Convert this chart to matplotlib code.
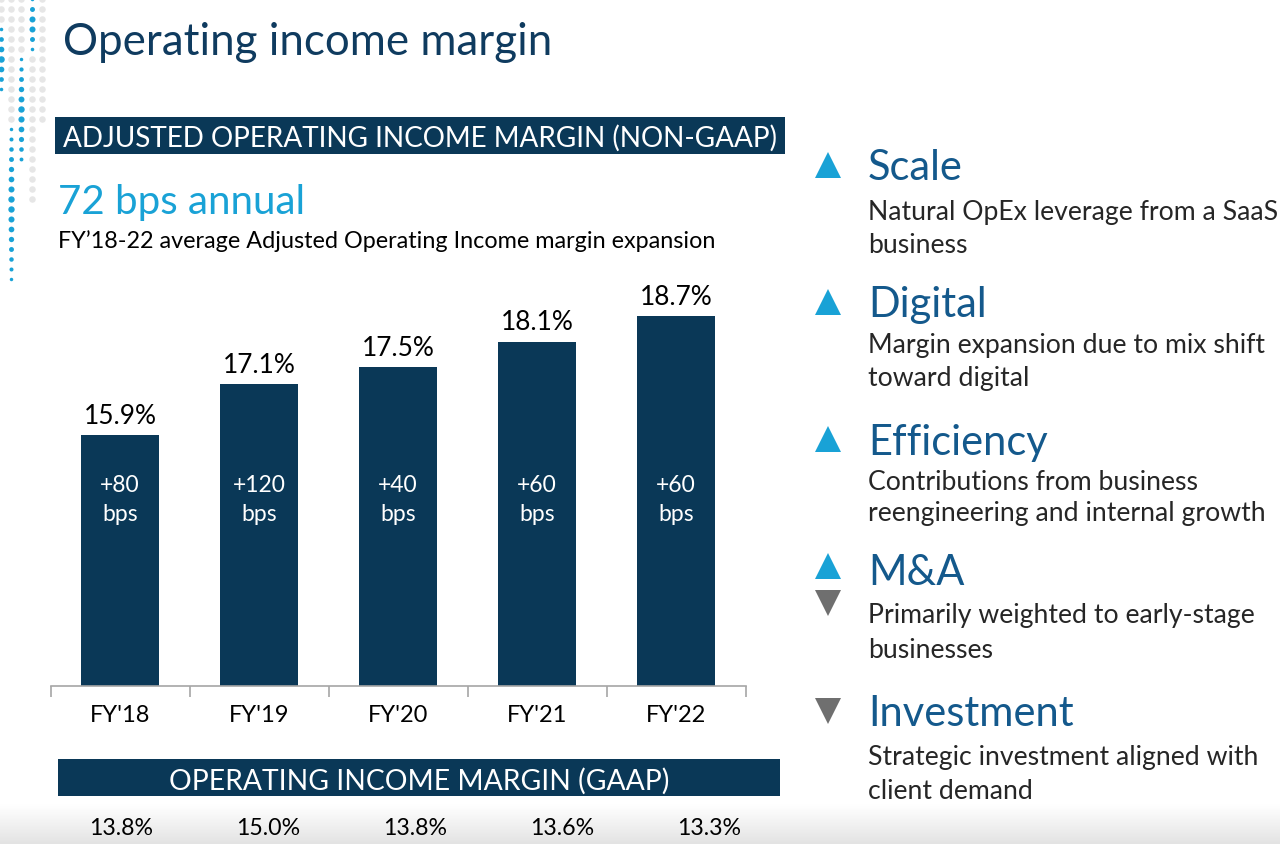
import matplotlib
matplotlib.use("Agg")
import matplotlib.pyplot as plt
from matplotlib.patches import Rectangle
import matplotlib.transforms as mtrans
import numpy as np

# ---------------- data ----------------
years = ["FY'18", "FY'19", "FY'20", "FY'21", "FY'22"]
adj_margin = [15.9, 17.1, 17.5, 18.1, 18.7]
bps_change = ["+80", "+120", "+40", "+60", "+60"]
gaap_margin = [13.8, 15.0, 13.8, 13.6, 13.3]

title = "Operating income margin"
header_adj = "ADJUSTED OPERATING INCOME MARGIN (NON-GAAP)"
big_stat = "72 bps annual"
big_stat_note = "FY\u201918-22 average Adjusted Operating Income margin expansion"
header_gaap = "OPERATING INCOME MARGIN (GAAP)"

driver_names = ["Scale", "Digital", "Efficiency", "M&A", "Investment"]
driver_dirs = [["up"], ["up"], ["up"], ["up", "down"], ["down"]]
driver_desc = [
    ["Natural OpEx leverage from a SaaS", "business"],
    ["Margin expansion due to mix shift", "toward digital"],
    ["Contributions from business", "reengineering and internal growth"],
    ["Primarily weighted to early-stage", "businesses"],
    ["Strategic investment aligned with", "client demand"],
]

# ---------------- style ----------------
NAVY = "#0a3857"
TITLE_C = "#0f3b5f"
LIGHT_BLUE = "#19a2d6"
MID_BLUE = "#14598c"
GREY_TRI = "#6f6f6f"
TEXT_C = "#262626"
FONT = ["Lato", "DejaVu Sans"]
plt.rcParams["font.family"] = FONT

W, H = 1280, 845
fig = plt.figure(figsize=(W / 100, H / 100), dpi=100)
renderer = fig.canvas.get_renderer()

# background pixel-space axes
bg = fig.add_axes([0, 0, 1, 1], zorder=0)
bg.set_xlim(0, W)
bg.set_ylim(H, 0)
bg.axis("off")


def fit_size(s, target_w, ref=20, **kw):
    t = bg.text(0, 0, s, fontsize=ref, **kw)
    w = t.get_window_extent(renderer).width
    t.remove()
    return ref * target_w / w


# bottom soft grey gradient
grad = np.linspace(1.0, 0.89, 50).reshape(-1, 1)
bg.imshow(grad, cmap="gray", vmin=0, vmax=1, extent=[0, W, H, 805],
          aspect="auto", zorder=0, interpolation="bicubic")

# decorative dot pattern (top-left)
dot_cols = [1, 11, 21, 32, 42]
dot_rows = list(range(0, 290, 10))
blue_ranges = {1: (30, 90), 11: (130, 280), 21: (60, 165), 32: (0, 50)}
grey_ranges = {1: (0, 25), 11: (0, 125), 21: (0, 55), 32: (60, 200), 42: (0, 120)}
for cx in dot_cols:
    for ry in dot_rows:
        if cx in blue_ranges and blue_ranges[cx][0] <= ry <= blue_ranges[cx][1]:
            lo, hi = blue_ranges[cx]
            mid = (lo + hi) / 2
            sz = 6 + 16 * (1 - abs(ry - mid) / ((hi - lo) / 2 + 1))
            bg.scatter(cx, ry, s=sz, color=LIGHT_BLUE, lw=0, zorder=1)
        elif cx in grey_ranges and grey_ranges[cx][0] <= ry <= grey_ranges[cx][1]:
            bg.scatter(cx, ry, s=22, color="#e6e6e6", lw=0, zorder=1)

# title
bg.text(63, 55, title, fontsize=fit_size(title, 490), color=TITLE_C,
        ha="left", va="baseline")

# header box (non-GAAP)
bg.add_patch(Rectangle((55, 118), 730, 37, color=NAVY, lw=0, zorder=1))
bg.text(63, 147, header_adj, fontsize=fit_size(header_adj, 715), color="white",
        ha="left", va="baseline", zorder=2)

bg.text(58, 214, big_stat, fontsize=fit_size(big_stat, 247), color=LIGHT_BLUE,
        ha="left", va="baseline")
bg.text(58, 248, big_stat_note, fontsize=fit_size(big_stat_note, 657), color="black",
        ha="left", va="baseline")

# ---------------- bar chart ----------------
px_per_pct = 42.5
base_y = 687
ax_top = base_y - px_per_pct * 10
ax_h = base_y - ax_top
ax = fig.add_axes([50.5 / W, 1 - base_y / H, 695 / W, ax_h / H], zorder=2)
ax.patch.set_alpha(0)
x = np.arange(len(years))
bars = ax.bar(x, adj_margin, width=0.56, color=NAVY, zorder=2)
ax.set_xlim(-0.5, len(years) - 0.5)
ax.set_ylim(10, 20)
for sp in ["top", "right", "left"]:
    ax.spines[sp].set_visible(False)
ax.spines["bottom"].set_color("#a6a6a6")
ax.spines["bottom"].set_linewidth(1.2)
ax.set_yticks([])
ax.set_xticks(x)
ax.set_xticklabels(years, fontsize=17, color="black")
ax.tick_params(axis="x", which="major", length=0, pad=13)
ax.set_xticks(np.arange(-0.5, len(years)), minor=True)
ax.tick_params(axis="x", which="minor", length=8, width=1.2, color="#a6a6a6")

val_size = fit_size("15.9%", 73)
in_size = fit_size("+120", 53)
blend = mtrans.blended_transform_factory(ax.transData, ax.transAxes)
for xi, v, b in zip(x, adj_margin, bps_change):
    ax.annotate(f"{v:.1f}%", (xi, v), xytext=(0, 9), textcoords="offset points",
                ha="center", va="baseline", fontsize=val_size, color="black")
    ax.text(xi, (base_y - 492) / ax_h, b, transform=blend, ha="center",
            va="baseline", color="white", fontsize=in_size, zorder=3)
    ax.text(xi, (base_y - 521) / ax_h, "bps", transform=blend, ha="center",
            va="baseline", color="white", fontsize=in_size, zorder=3)

# ---------------- GAAP row ----------------
bg.add_patch(Rectangle((58, 760), 722, 37, color=NAVY, lw=0, zorder=1))
bg.text(419, 790, header_gaap, fontsize=fit_size(header_gaap, 498), color="white",
        ha="center", va="baseline", zorder=2)

gx = fig.add_axes([47.5 / W, 1 - 845 / H, 735 / W, 40 / H], zorder=2)
gx.set_xlim(-0.5, len(years) - 0.5)
gx.set_ylim(0, 1)
gx.axis("off")
g_size = fit_size("13.8%", 64)
for xi, g in zip(x, gaap_margin):
    gx.text(xi, 10 / 40, f"{g:.1f}%", ha="center", va="baseline",
            fontsize=g_size, color="black")

# ---------------- right-side drivers ----------------
head_base = [180, 317, 455, 585, 726]
desc_base = [[220, 253], [353, 386], [490, 521], [623, 658], [765, 799]]
tri_y = [[166], [303], [440], [567, 604], [712]]
head_size = fit_size("Efficiency", 180)
desc_size = fit_size("Natural OpEx leverage from a SaaS", 402) * 1.02
for name, dirs, descs, hb, dbs, tys in zip(driver_names, driver_dirs, driver_desc,
                                          head_base, desc_base, tri_y):
    bg.text(868, hb, name, fontsize=head_size, color=MID_BLUE, ha="left", va="baseline")
    for d, db in zip(descs, dbs):
        bg.text(868, db, d, fontsize=desc_size, color=TEXT_C, ha="left", va="baseline")
    for dr, ty in zip(dirs, tys):
        bg.plot(828, ty, marker="^" if dr == "up" else "v", markersize=19,
                color=LIGHT_BLUE if dr == "up" else GREY_TRI, mew=0)

fig.savefig("out.png", dpi=100)
